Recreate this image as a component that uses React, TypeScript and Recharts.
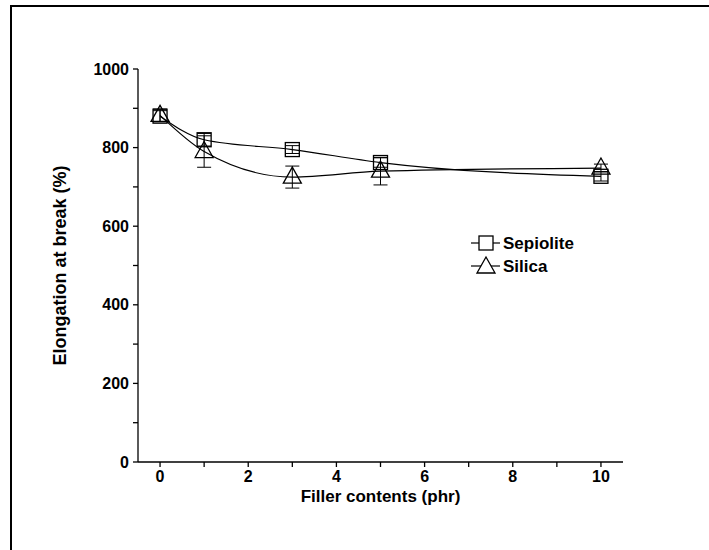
import { LineChart, Line, XAxis, YAxis, ErrorBar } from 'recharts';

const fillerPhr = [0, 1, 3, 5, 10];
const sepiolite = [880, 820, 795, 762, 727];
const sepioliteErr = [14, 16, 10, 12, 12];
const silica = [882, 790, 725, 740, 748];
const silicaErr = [16, 40, 28, 35, 10];

const xTicks = [0, 1, 2, 3, 4, 5, 6, 7, 8, 9, 10];
const yTicks = [0, 100, 200, 300, 400, 500, 600, 700, 800, 900, 1000];

const data = fillerPhr.map((x, i) => ({
    x,
    sepiolite: sepiolite[i],
    sepErr: sepioliteErr[i],
    silica: silica[i],
    silErr: silicaErr[i],
}));

const FONT = '"Liberation Sans", Arial, sans-serif';

const SquareDot = (props: any) => {
    const { cx, cy } = props;
    if (cx == null || cy == null) return null;
    return <rect x={cx - 7} y={cy - 7} width={14} height={14} fill="none" stroke="#000" strokeWidth={1.3} />;
};

const TriangleDot = (props: any) => {
    const { cx, cy } = props;
    if (cx == null || cy == null) return null;
    const p = `${cx},${cy - 10} ${cx - 9},${cy + 6} ${cx + 9},${cy + 6}`;
    return <polygon points={p} fill="none" stroke="#000" strokeWidth={1.3} />;
};

const tickStyle = { fontSize: 16, fontWeight: 700, fill: '#000', fontFamily: FONT };

export default function App() {
    return (
        <div style={{ position: 'fixed', left: 0, top: 0, width: 709, height: 550, overflow: 'hidden', background: '#fff' }}>
            <div style={{ position: 'absolute', left: 10, top: 5, width: 730, height: 570, border: '2px solid #000' }} />
            <div style={{ position: 'absolute', left: 0, top: 0 }}>
                <LineChart width={709} height={550} data={data} margin={{ top: 69, right: 86, bottom: 0, left: 0 }}>
                    <XAxis
                        dataKey="x"
                        type="number"
                        domain={[-0.5, 10.5]}
                        ticks={xTicks}
                        interval={0}
                        tickFormatter={(v: number) => (v % 2 === 0 ? String(v) : '')}
                        tick={tickStyle}
                        tickSize={5}
                        tickMargin={4}
                        stroke="#000"
                        strokeWidth={1.3}
                        height={88}
                        label={{ value: 'Filler contents (phr)', position: 'insideTop', offset: 28, style: { fontSize: 17, fontWeight: 700, fill: '#000', fontFamily: FONT } }}
                    />
                    <XAxis xAxisId="top" orientation="top" dataKey="x" type="number" domain={[-0.5, 10.5]} tick={false} tickLine={false} stroke="#000" strokeWidth={1.3} height={0} />
                    <YAxis
                        type="number"
                        domain={[0, 1000]}
                        ticks={yTicks}
                        interval={0}
                        tickFormatter={(v: number) => (v % 200 === 0 ? String(v) : '')}
                        tick={tickStyle}
                        tickSize={5}
                        tickMargin={4}
                        stroke="#000"
                        strokeWidth={1.3}
                        width={138}
                        label={{ value: 'Elongation at break (%)', angle: -90, position: 'insideLeft', offset: 60, style: { textAnchor: 'middle', fontSize: 18, fontWeight: 700, fill: '#000', fontFamily: FONT } }}
                    />
                    <YAxis yAxisId="right" orientation="right" domain={[0, 1000]} tick={false} tickLine={false} stroke="#000" strokeWidth={1.3} width={0} />
                    <Line type="monotone" dataKey="sepiolite" stroke="#000" strokeWidth={1.2} dot={<SquareDot />} activeDot={false} isAnimationActive={false}>
                        <ErrorBar dataKey="sepErr" width={7} stroke="#000" strokeWidth={1} />
                    </Line>
                    <Line type="monotone" dataKey="silica" stroke="#000" strokeWidth={1.2} dot={<TriangleDot />} activeDot={false} isAnimationActive={false}>
                        <ErrorBar dataKey="silErr" width={7} stroke="#000" strokeWidth={1} />
                    </Line>
                </LineChart>
            </div>
            {/* legend */}
            <svg style={{ position: 'absolute', left: 0, top: 0 }} width={709} height={550}>
                <line x1={471} y1={243} x2={500} y2={243} stroke="#000" strokeWidth={1.2} />
                <rect x={479} y={236} width={14} height={14} fill="#fff" stroke="#000" strokeWidth={1.3} />
                <text x={503} y={249} fontSize={17} fontWeight={700} fontFamily={FONT}>Sepiolite</text>
                <line x1={471} y1={266} x2={500} y2={266} stroke="#000" strokeWidth={1.2} />
                <polygon points="486,257 477,273 495,273" fill="#fff" stroke="#000" strokeWidth={1.3} />
                <text x={503} y={272} fontSize={17} fontWeight={700} fontFamily={FONT}>Silica</text>
            </svg>
        </div>
    );
}
